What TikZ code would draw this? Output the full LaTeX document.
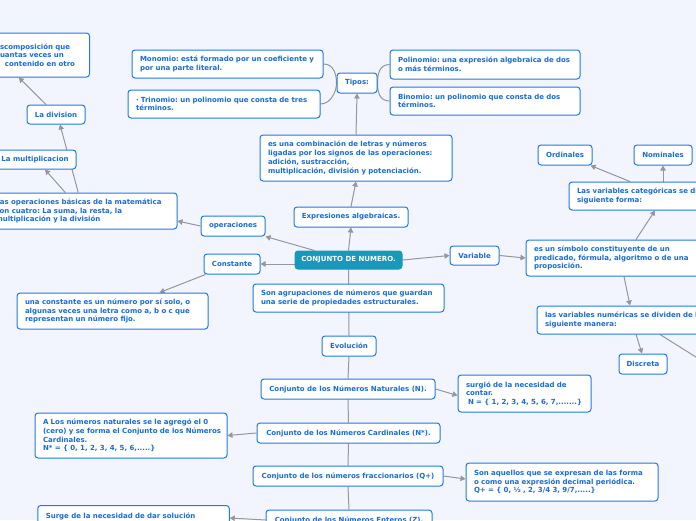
\documentclass[tikz,border=0pt]{standalone}
\usepackage{fontspec}
\setmainfont{DejaVu Sans}
\usetikzlibrary{arrows.meta,calc}
\frenchspacing
\definecolor{bgc}{RGB}{242,245,253}
\definecolor{bord}{RGB}{32,122,226}
\definecolor{txt}{RGB}{24,108,214}
\definecolor{conn}{RGB}{150,150,155}
\definecolor{cfill}{RGB}{24,152,186}
\pgfdeclarelayer{back}\pgfdeclarelayer{lines}\pgfsetlayers{back,lines,main}
\tikzset{
 mbox/.style={draw=bord, fill=white, rounded corners=3pt, line width=1pt, text=txt,
   font=\fontsize{7}{8.7}\selectfont\bfseries\frenchspacing, align=left, inner xsep=8pt, inner ysep=3pt},
 sbox/.style={mbox, align=center, inner xsep=2pt},
 cbox/.style={sbox, draw=cfill, fill=cfill, text=white},
 cline/.style={draw=conn, line width=1pt},
 arr/.style={cline, -{Triangle[length=5pt,width=5.5pt]}},
}
\begin{document}
\begin{tikzpicture}[x=1pt,y=-1pt]
\useasboundingbox (0,0) rectangle (696,520);
\begin{pgfonlayer}{back}\fill[bgc] (0,0) rectangle (696,520);\end{pgfonlayer}

% centre
\node[cbox, minimum width=107pt, minimum height=18pt] (cn) at (348.5,260) {CONJUNTO DE NUMERO.};

% left-top branch
\node[mbox, text width=81.5pt, minimum height=44pt] (tl) at (40.75,55) {scomposición que\\uantas veces un\\\hspace*{5pt}contenido en otro};
\node[sbox, minimum width=58pt, minimum height=19pt] (div) at (56,114.5) {La division};
\node[sbox, minimum width=82pt, minimum height=19pt] (mult) at (35,159.5) {La multiplicacion};
\node[mbox, text width=173.5pt, minimum height=36pt] (odesc) at (82.25,211) {Las operaciones básicas de la matemática\\son cuatro: La suma, la resta, la\\multiplicación y la división};
\node[sbox, minimum width=64pt, minimum height=20pt] (ops) at (233,226) {operaciones};

% expresiones
\node[sbox, minimum width=114pt, minimum height=20pt] (expr) at (351,217) {Expresiones algebraicas.};
\node[mbox, text width=176pt, minimum height=46pt] (comb) at (356,158) {es una combinación de letras y números\\ligadas por los signos de las operaciones:\\adición, sustracción,\\multiplicación, división y potenciación.};
\node[sbox, minimum width=40pt, minimum height=20pt] (tipos) at (357,83) {Tipos:};
\node[mbox, text width=175pt, minimum height=28pt] (mono) at (227.5,64) {\mbox{Monomio: está formado por un coeficiente y}\\por una parte literal.};
\node[mbox, text width=176pt, minimum height=28pt] (trin) at (224,104) {\mbox{· Trinomio: un polinomio que consta de tres}\\términos.};
\node[mbox, text width=174pt, minimum height=29pt] (poli) at (485,64.5) {\mbox{Polinomio: una expresión algebraica de dos}\\o más términos.};
\node[mbox, text width=174pt, minimum height=28pt] (bino) at (485,101) {Binomio: un polinomio que consta de dos\\términos.};

% constante
\node[sbox, minimum width=56pt, minimum height=20pt] (const) at (232,264) {Constante};
\node[mbox, text width=175pt, minimum height=36pt] (cdesc) at (112.5,311) {\mbox{una constante es un número por sí solo, o}\\\mbox{algunas veces una letra como a, b o c que}\\representan un número fijo.};

% variable
\node[sbox, minimum width=49pt, minimum height=19pt] (var) at (474.5,255.5) {Variable};
\node[mbox, text width=176pt, minimum height=36pt] (sym) at (622,258) {es un símbolo constituyente de un\\predicado, fórmula, algoritmo o de una\\proposición.};
\node[mbox, text width=204pt, minimum height=28pt] (cat) at (679,196) {\mbox{Las variables categóricas se dividen de la}\\siguiente forma:};
\node[sbox, minimum width=54pt, minimum height=20pt] (ord) at (565,155) {Ordinales};
\node[sbox, minimum width=58pt, minimum height=20pt] (nom) at (663,155) {Nominales};
\node[mbox, text width=204pt, minimum height=28pt] (num) at (647,320) {\mbox{las variables numéricas se dividen de la}\\siguiente manera:};
\node[sbox, minimum width=48pt, minimum height=20pt] (disc) at (643,364) {Discreta};
\coordinate (cont) at (715,369);

% evolucion
\node[mbox, text width=175pt, minimum height=28pt] (agr) at (348.5,298) {\mbox{Son agrupaciones de números que guardan}\\una serie de propiedades estructurales.};
\node[sbox, minimum width=54pt, minimum height=20pt] (evo) at (349,346) {Evolución};
\node[sbox, minimum width=174pt, minimum height=20pt] (nat) at (348,389) {Conjunto de los Números Naturales (N).};
\node[mbox, text width=117pt, minimum height=37pt] (surg) at (524.5,393.5) {surgió de la necesidad de\\contar.\\\hspace*{2pt}N = \{ 1, 2, 3, 4, 5, 6, 7,.......\}};
\node[sbox, minimum width=183pt, minimum height=20pt] (card) at (348.5,433) {Conjunto de los Números Cardinales (N*).};
\node[mbox, text width=176pt, minimum height=45pt] (alos) at (131,435.5) {\mbox{A Los números naturales se le agregó el 0}\\\mbox{(cero) y se forma el Conjunto de los Números}\\Cardinales.\\N* = \{ 0, 1, 2, 3, 4, 5, 6,.....\}};
\node[sbox, minimum width=190pt, minimum height=20pt] (frac) at (348,476) {Conjunto de los números fraccionarios (Q+)};
\node[mbox, text width=176pt, minimum height=38pt] (aquel) at (562,482) {\mbox{Son aquellos que se expresan de las forma}\\\mbox{o como una expresión decimal periódica.}\\Q+ = \{ 0, ½ , 2, 3/4 3, 9/7,.....\}};
\node[sbox, minimum width=166pt, minimum height=20pt] (ent) at (349,520) {Conjunto de los Números Enteros (Z).};
\node[mbox, anchor=north, text width=175.5pt, text depth=30pt, inner ysep=7pt] (surge) at (133.5,505) {Surge de la necesidad de dar solución};

\begin{pgfonlayer}{lines}
% centre links
\draw[arr] ([xshift=20pt]cn.north west) -- (ops.south east);
\draw[arr] (cn.north) -- (expr.south);
\draw[arr] (cn.west |- const.east) -- (const.east);
\draw[arr] (cn.east) -- (var.west);
\draw[cline] (cn.south) -- (evo.north);
% left
\draw[arr] (ops.west) -- ([yshift=-10pt]odesc.east);
\draw[arr] ([xshift=-17pt]odesc.north) -- ([xshift=10pt]mult.south);
\draw[arr] ([xshift=-4pt]odesc.north) -- ([xshift=4pt]div.south);
\draw[arr] ([xshift=-10pt]div.north) -- ([xshift=-22pt]tl.south);
% expresiones
\draw[arr] (expr.north) -- (comb.south);
\draw[arr] (comb.north) -- (tipos.south);
\draw[cline] (mono.east) .. controls ([xshift=10pt]mono.east) and ([yshift=9pt]tipos.west) .. (tipos.west);
\draw[cline] (trin.east) .. controls ([xshift=10pt]trin.east) and ([yshift=-9pt]tipos.west) .. (tipos.west);
\draw[cline] (tipos.east) .. controls ([yshift=9pt]tipos.east) and ([xshift=-10pt]poli.west) .. (poli.west);
\draw[cline] (tipos.east) .. controls ([yshift=-9pt]tipos.east) and ([xshift=-10pt]bino.west) .. (bino.west);
% constante
\draw[arr] ([xshift=2pt]const.south west) -- ([xshift=47pt]cdesc.north);
% variable
\draw[arr] (var.east) -- (sym.west);
\draw[arr] ([xshift=14pt]sym.north) -- ([xshift=-24pt]cat.south);
\draw[arr] ([xshift=-49pt]cat.north) -- ([xshift=-2pt]ord.south east);
\draw[arr] (nom.south |- cat.north) -- (nom.south);
\draw[arr] ([xshift=2pt]sym.south) -- ([xshift=-17pt]num.north);
\draw[arr] ([xshift=-11pt]num.south) -- ([xshift=-1pt]disc.north);
\draw[cline] ([xshift=13pt]num.south) -- (cont);
% evolucion
\draw[cline] (evo.south) -- (nat.north);
\draw[cline] (nat.south) -- (card.north);
\draw[cline] (card.south) -- (frac.north);
\draw[cline] (frac.south) -- (ent.north);
\draw[arr] (nat.east) -- ([yshift=-2pt]surg.west);
\draw[arr] (card.west) -- (alos.east);
\draw[arr] (frac.east) -- ([yshift=3pt]aquel.west);
\draw[arr] (ent.west) -- ([yshift=-13pt]surge.north east);
\end{pgfonlayer}
\end{tikzpicture}
\end{document}
